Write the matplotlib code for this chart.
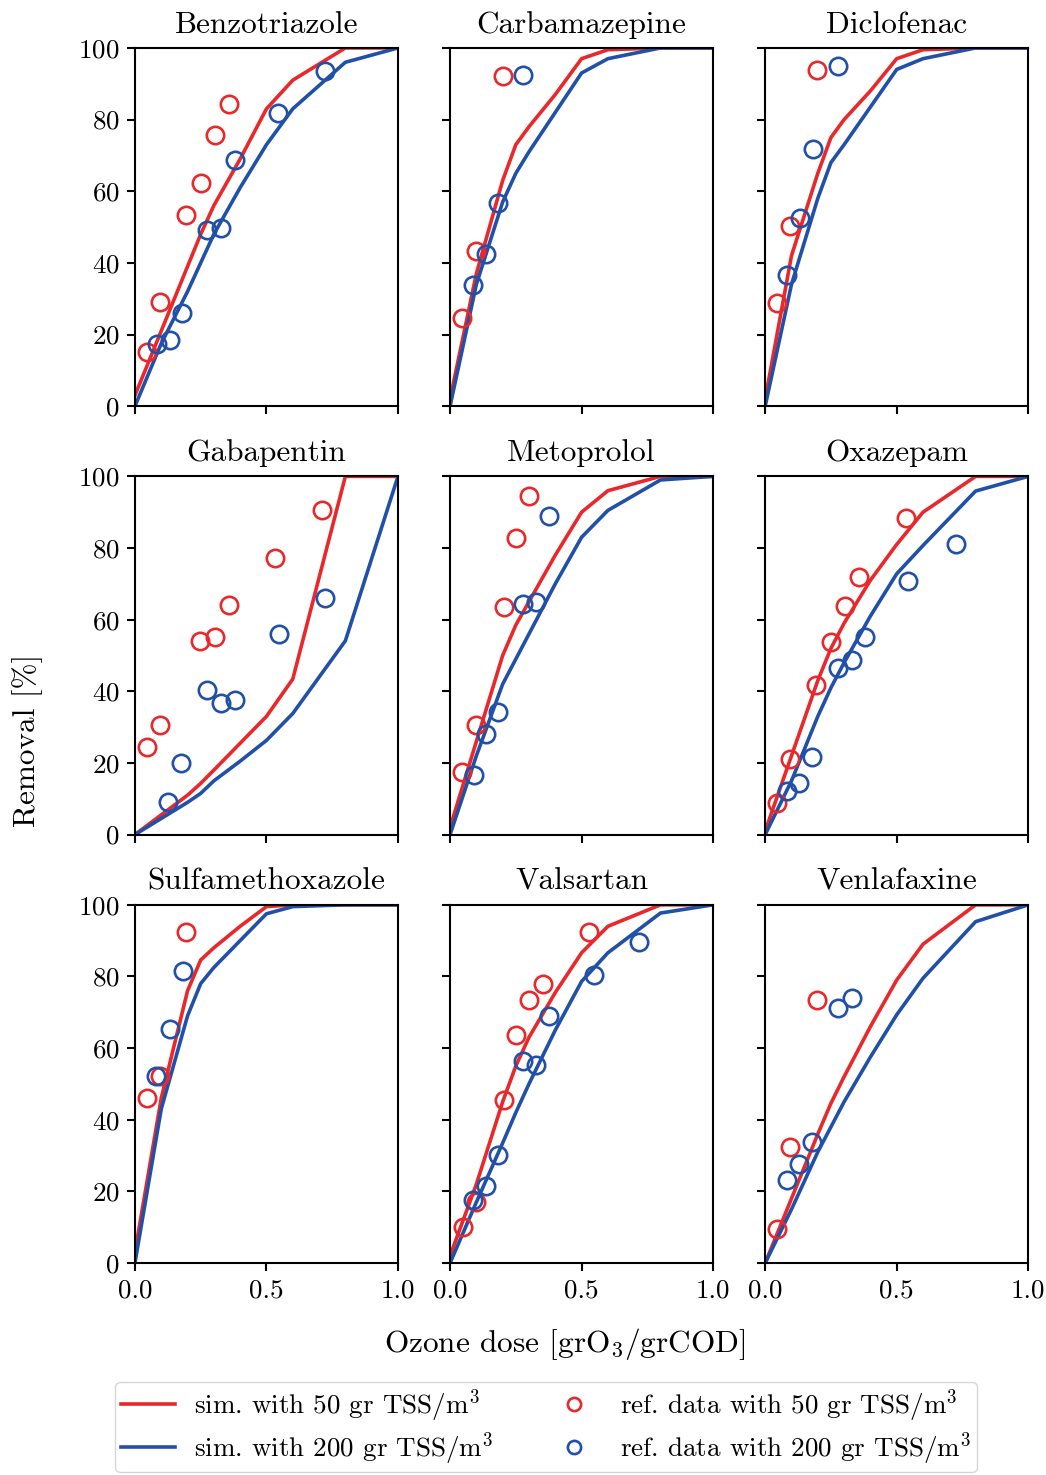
import numpy as np
import matplotlib
matplotlib.use('Agg')
from matplotlib import pyplot as plt
from matplotlib.lines import Line2D

# Computer Modern look
plt.rcParams['font.family'] = 'cmr10'
plt.rcParams['mathtext.fontset'] = 'cm'
plt.rcParams['axes.formatter.use_mathtext'] = True
plt.rcParams['axes.unicode_minus'] = False

RED = '#e8282b'
BLUE = '#2150a8'

compounds = ['Benzotriazole', 'Carbamazepine', 'Diclofenac',
             'Gabapentin', 'Metoprolol', 'Oxazepam',
             'Sulfamethoxazole', 'Valsartan', 'Venlafaxine']

# simulated curves, common dose grid [grO3/grCOD]
sim_dose = [0, 0.1, 0.2, 0.25, 0.3, 0.4, 0.5, 0.6, 0.8, 1.0]

sim_50 = {
    'Benzotriazole':    [3, 21, 39, 48, 56, 69, 83, 91, 100, 100],
    'Carbamazepine':    [2, 37, 63, 73, 78, 87, 97, 99.5, 100, 100],
    'Diclofenac':       [2, 42, 65, 75, 80, 88, 97, 99.5, 100, 100],
    'Gabapentin':       [0, 5.5, 11, 14.3, 18, 25.5, 33, 43.4, 100, 100],
    'Metoprolol':       [2, 26, 50, 58.5, 65, 78, 90, 96, 100, 100],
    'Oxazepam':         [1, 22, 43, 52, 59, 71, 81, 90, 100, 100],
    'Sulfamethoxazole': [3, 46, 76, 84.6, 88, 94, 99.5, 100, 100, 100],
    'Valsartan':        [2, 22, 45, 55, 63, 75.5, 86.6, 94, 100, 100],
    'Venlafaxine':      [0, 18, 36, 44.6, 52, 66, 79, 89, 100, 100],
}

sim_200 = {
    'Benzotriazole':    [0, 17.5, 32, 40, 48, 61, 73, 83, 96, 100],
    'Carbamazepine':    [0, 34, 57, 65, 71, 82, 93, 97, 100, 100],
    'Diclofenac':       [0, 34, 58, 68, 73, 83.5, 94, 97, 100, 100],
    'Gabapentin':       [0, 4.5, 9, 11.5, 15, 20.5, 26.3, 33.8, 54.1, 100],
    'Metoprolol':       [0, 22, 42, 49, 56, 70, 83, 90.5, 99, 100],
    'Oxazepam':         [0, 15, 33, 41, 48, 61, 72.8, 80.7, 95.9, 100],
    'Sulfamethoxazole': [0, 43, 69, 78, 82.5, 90, 97.5, 99.5, 100, 100],
    'Valsartan':        [0, 17, 33.5, 42, 50, 65, 78.6, 86.6, 97.7, 100],
    'Venlafaxine':      [0, 15, 31, 38, 45, 57.5, 69.3, 79.5, 95.3, 100],
}

# reference measurements (dose, removal)
ref_50 = {
    'Benzotriazole':    ([0.046, 0.095, 0.194, 0.251, 0.304, 0.357],
                         [15.0, 29.2, 53.5, 62.4, 75.8, 84.4]),
    'Carbamazepine':    ([0.046, 0.099, 0.202], [24.5, 43.2, 92.2]),
    'Diclofenac':       ([0.046, 0.095, 0.198], [28.7, 50.4, 93.9]),
    'Gabapentin':       ([0.046, 0.095, 0.247, 0.304, 0.357, 0.532, 0.711],
                         [24.4, 30.5, 54.0, 55.2, 64.2, 77.3, 90.5]),
    'Metoprolol':       ([0.046, 0.099, 0.206, 0.252, 0.302],
                         [17.4, 30.6, 63.6, 82.9, 94.6]),
    'Oxazepam':         ([0.046, 0.095, 0.194, 0.251, 0.304, 0.357, 0.536],
                         [8.7, 21.0, 41.7, 53.8, 63.9, 72.0, 88.5]),
    'Sulfamethoxazole': ([0.046, 0.095, 0.194], [46.1, 52.2, 92.5]),
    'Valsartan':        ([0.05, 0.1, 0.206, 0.252, 0.302, 0.355, 0.527],
                         [10.0, 17.0, 45.5, 63.7, 73.5, 78.0, 92.5]),
    'Venlafaxine':      ([0.046, 0.095, 0.198], [9.5, 32.4, 73.5]),
}

ref_200 = {
    'Benzotriazole':    ([0.084, 0.133, 0.179, 0.274, 0.327, 0.38, 0.544, 0.722],
                         [17.3, 18.4, 25.9, 49.3, 49.6, 68.8, 81.9, 93.6]),
    'Carbamazepine':    ([0.088, 0.137, 0.183, 0.279], [33.7, 42.6, 56.8, 92.5]),
    'Diclofenac':       ([0.084, 0.133, 0.183, 0.278], [36.5, 52.4, 71.9, 95.0]),
    'Gabapentin':       ([0.125, 0.175, 0.274, 0.327, 0.38, 0.548, 0.722],
                         [9.0, 19.9, 40.3, 36.7, 37.5, 56.0, 66.1]),
    'Metoprolol':       ([0.092, 0.137, 0.183, 0.279, 0.328, 0.378],
                         [16.5, 28.0, 34.2, 64.5, 64.8, 88.8]),
    'Oxazepam':         ([0.084, 0.129, 0.179, 0.278, 0.331, 0.38, 0.544, 0.726],
                         [12.3, 14.3, 21.6, 46.5, 48.7, 55.2, 70.9, 81.2]),
    'Sulfamethoxazole': ([0.08, 0.133, 0.183], [52.2, 65.4, 81.6]),
    'Valsartan':        ([0.088, 0.137, 0.183, 0.279, 0.328, 0.378, 0.546, 0.718],
                         [17.6, 21.5, 30.2, 56.4, 55.3, 69.0, 80.4, 89.7]),
    'Venlafaxine':      ([0.084, 0.129, 0.179, 0.278, 0.331],
                         [23.2, 27.7, 33.8, 71.2, 74.0]),
}

x_ticks = [0.0, 0.5, 1.0]
y_ticks = [0, 20, 40, 60, 80, 100]

fig, axes = plt.subplots(3, 3, figsize=(10.46, 14.75), dpi=100, sharex=True, sharey=True)
fig.subplots_adjust(left=0.129, right=0.983, top=0.9675, bottom=0.1437,
                    wspace=0.198, hspace=0.196)

for ax, name in zip(axes.flat, compounds):
    ax.plot(sim_dose, sim_50[name], color=RED, lw=2.6)
    ax.plot(sim_dose, sim_200[name], color=BLUE, lw=2.6)
    ax.plot(*ref_50[name], 'o', ms=12.5, mfc='none', mec=RED, mew=1.9)
    ax.plot(*ref_200[name], 'o', ms=12.5, mfc='none', mec=BLUE, mew=1.9)
    ax.set_title(name, fontsize=22.5, pad=11)
    ax.set_xlim(0, 1)
    ax.set_ylim(0, 100)
    ax.set_xticks(x_ticks)
    ax.set_yticks(y_ticks)
    ax.tick_params(labelsize=19.5, width=1.5, length=6, direction='out', pad=5)
    for s in ax.spines.values():
        s.set_linewidth(1.5)

for ax in axes[-1]:
    ax.set_xticklabels(['0.0', '0.5', '1.0'])

fig.text(0.026, 0.498, 'Removal [%]', rotation=90, fontsize=22.5, ha='center', va='center')
fig.text(0.54, 0.089, r'Ozone dose [grO$_3$/grCOD]', fontsize=22.5, ha='center', va='center')

# legend under the grid
handles = [
    Line2D([], [], color=RED, lw=2.6, label=r'sim. with 50 gr TSS/m$^3$'),
    Line2D([], [], color=BLUE, lw=2.6, label=r'sim. with 200 gr TSS/m$^3$'),
    Line2D([], [], ls='none', marker='o', ms=9.5, mfc='none', mec=RED, mew=1.9,
           label=r'ref. data with 50 gr TSS/m$^3$'),
    Line2D([], [], ls='none', marker='o', ms=9.5, mfc='none', mec=BLUE, mew=1.9,
           label=r'ref. data with 200 gr TSS/m$^3$'),
]
fig.legend(handles=handles, ncol=2, loc='center', bbox_to_anchor=(0.522, 0.0325),
           fontsize=19.5, frameon=True, fancybox=True, edgecolor='#cccccc',
           columnspacing=2.0, handlelength=2.0, handletextpad=0.7,
           labelspacing=0.22, borderpad=0.2)

plt.savefig('out.png', dpi=100)
